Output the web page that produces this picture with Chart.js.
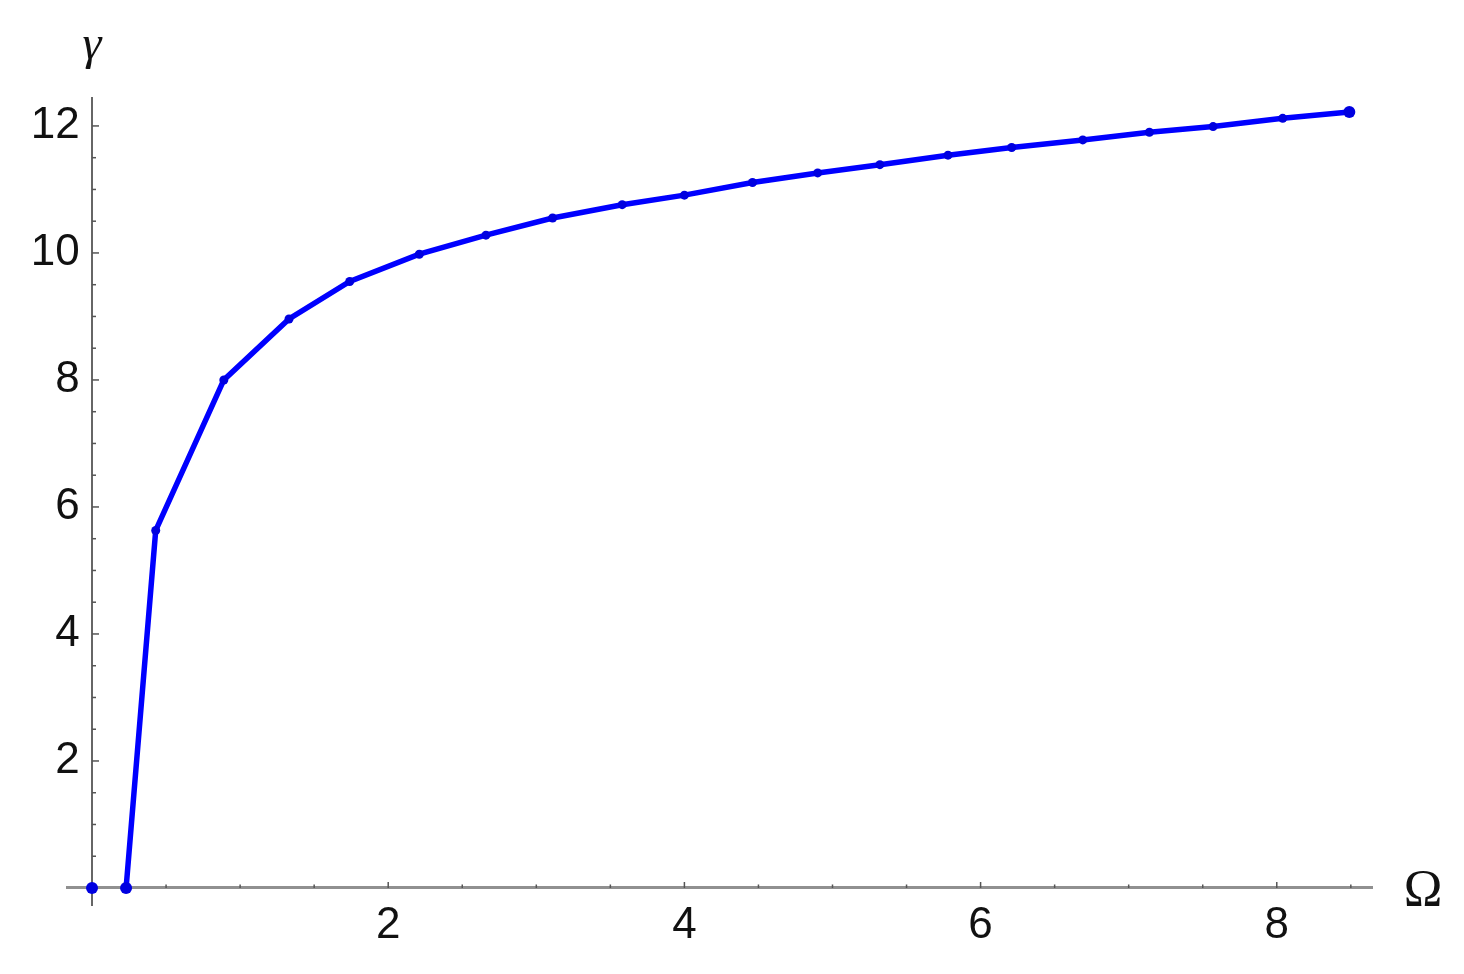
<!DOCTYPE html>
<html>
<head>
  <title>gamma vs Omega</title>
  <script src="https://cdn.jsdelivr.net/npm/chart.js"></script>
  <style>
    body { margin: 0; background: #fff; }
    #chart-container { width: 1464px; height: 974px; }
  </style>
</head>
<body>
  <div id="chart-container">
    <canvas id="gammaChart"></canvas>
  </div>

  <script>
    // values (Omega, gamma)
    const omega = [0, 0.23, 0.43, 0.89, 1.33, 1.74, 2.21, 2.66, 3.11, 3.58, 4.0, 4.46, 4.9, 5.32, 5.78, 6.21, 6.69, 7.14, 7.57, 8.04, 8.49];
    const gamma = [0, 0, 5.63, 8.0, 8.96, 9.55, 9.98, 10.28, 10.55, 10.76, 10.91, 11.11, 11.26, 11.39, 11.54, 11.66, 11.78, 11.9, 11.99, 12.12, 12.22];
    const xTicks = [2, 4, 6, 8];
    const yTicks = [2, 4, 6, 8, 10, 12];

    const points = omega.map((x, i) => ({ x: x, y: gamma[i] }));
    const lastIdx = points.length - 1;

    // Mathematica-like minor ticks + axis titles
    const axisDecor = {
      id: 'axisDecor',
      beforeDatasetsDraw(chart) {
        const { ctx, chartArea, scales: { x, y } } = chart;
        const x0 = x.getPixelForValue(0);
        const y0 = y.getPixelForValue(0);
        ctx.save();
        ctx.strokeStyle = '#555';
        ctx.lineWidth = 1.5;
        for (let v = 0.5; v <= x.max; v += 0.5) {
          const px = x.getPixelForValue(v);
          const len = v % 2 === 0 ? 6 : 3.5;
          ctx.beginPath();
          ctx.moveTo(px, y0);
          ctx.lineTo(px, y0 - len);
          ctx.stroke();
        }
        for (let v = 0.5; v <= y.max; v += 0.5) {
          const py = y.getPixelForValue(v);
          const len = v % 2 === 0 ? 7 : 4;
          ctx.beginPath();
          ctx.moveTo(x0, py);
          ctx.lineTo(x0 + len, py);
          ctx.stroke();
        }
        ctx.fillStyle = '#111';
        ctx.textAlign = 'center';
        ctx.textBaseline = 'alphabetic';
        ctx.font = 'italic 48px "Liberation Serif", "DejaVu Serif", serif';
        ctx.fillText('γ', x0, chartArea.top - 39);
        ctx.font = '52px "Liberation Serif", "DejaVu Serif", serif';
        ctx.fillText('Ω', chartArea.right + 51, y0 + 18);
        ctx.restore();
      }
    };

    const tickFont = { family: '"Liberation Sans", Arial, sans-serif', size: 44 };

    new Chart(document.getElementById('gammaChart'), {
      type: 'scatter',
      data: {
        datasets: [{
          data: points,
          showLine: true,
          borderColor: '#0000ff',
          borderWidth: 5.5,
          backgroundColor: '#0000e0',
          pointBorderWidth: 0,
          pointRadius: ctx => (ctx.dataIndex <= 1 || ctx.dataIndex === lastIdx) ? 6 : 4.5,
          segment: {
            // (0,0) sits alone, no line to the next point
            borderColor: ctx => ctx.p0DataIndex === 0 ? 'rgba(0,0,0,0)' : undefined
          }
        }]
      },
      options: {
        responsive: true,
        maintainAspectRatio: false,
        animation: false,
        layout: { padding: { left: 67, top: 98, right: 92, bottom: 69 } },
        plugins: {
          legend: { display: false },
          tooltip: { enabled: false }
        },
        scales: {
          x: {
            type: 'linear',
            min: -0.169,
            max: 8.643,
            position: { y: 0 },
            grid: { display: false },
            border: { display: true, color: '#909090', width: 3 },
            afterBuildTicks: s => { s.ticks = xTicks.map(v => ({ value: v })); },
            ticks: { padding: 3, color: '#111', font: tickFont, maxRotation: 0 }
          },
          y: {
            type: 'linear',
            min: -0.268,
            max: 12.44,
            position: { x: 0 },
            grid: { display: false },
            border: { display: true, color: '#666', width: 2 },
            afterBuildTicks: s => { s.ticks = yTicks.map(v => ({ value: v })); },
            // padding is ignored for a data-positioned axis, so pad with a space
            ticks: { color: '#111', font: tickFont, callback: v => v + '\u2008' }
          }
        }
      },
      plugins: [axisDecor]
    });
  </script>
</body>
</html>
